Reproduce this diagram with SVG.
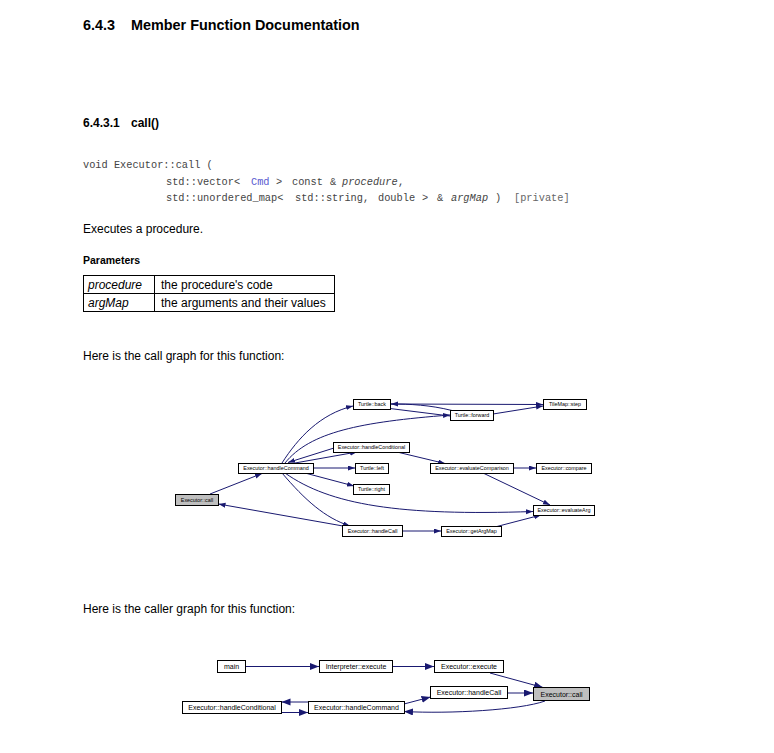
<svg xmlns="http://www.w3.org/2000/svg" width="774" height="753" viewBox="0 0 774 753">
<style>
.t{font-family:"Liberation Sans",Arial,sans-serif;fill:#000}
.h1{font-size:14.4px;font-weight:bold}
.h2{font-size:12px;font-weight:bold}
.p{font-size:12px}
.it{font-style:italic}
.c{font-family:"Liberation Mono","Courier New",monospace;font-size:10.3px;fill:#444}
.ln{fill:none;stroke:#191970;stroke-width:1}
.box{fill:#fff;stroke:#000;stroke-width:1}
.sel{fill:#bfbfbf;stroke:#000;stroke-width:1}
.s{font-family:"Liberation Sans",Arial,sans-serif;font-size:5.4px;fill:#000;text-anchor:middle}
.m{font-family:"Liberation Sans",Arial,sans-serif;font-size:7px;fill:#000;text-anchor:middle}
.e1{marker-end:url(#a1)}
.e2{marker-end:url(#a2)}
</style>
<defs>
<marker id="a1" markerUnits="userSpaceOnUse" markerWidth="8" markerHeight="6" refX="7" refY="2.5" orient="auto"><path d="M0,0 L7,2.5 L0,5 z" fill="#191970"/></marker>
<marker id="a2" markerUnits="userSpaceOnUse" markerWidth="10" markerHeight="8" refX="9" refY="3.5" orient="auto"><path d="M0,0 L9,3.5 L0,7 z" fill="#191970"/></marker>
</defs>
<rect width="774" height="753" fill="#fff"/>
<g id="header">
<text class="t h1" x="83" y="30">6.4.3</text>
<text class="t h1" x="131" y="30">Member Function Documentation</text>
<text class="t h2" x="83" y="127">6.4.3.1</text>
<text class="t h2" x="131" y="127">call()</text>
<text class="c" x="83" y="168">void Executor::call (</text>
<text class="c" x="166" y="185">std::vector&lt;</text>
<text class="c" x="251" y="185" style="fill:#5a5ad0">Cmd</text>
<text class="c" x="276" y="185">&gt;</text>
<text class="c" x="292" y="185">const</text>
<text class="c" x="330" y="185">&amp;</text>
<text class="c it" x="342" y="185">procedure</text>
<text class="c" x="398" y="185">,</text>
<text class="c" x="166" y="201">std::unordered_map&lt;</text>
<text class="c" x="295" y="201">std::string,</text>
<text class="c" x="378" y="201">double</text>
<text class="c" x="422" y="201">&gt;</text>
<text class="c" x="437" y="201">&amp;</text>
<text class="c it" x="451" y="201">argMap</text>
<text class="c" x="495" y="201">)</text>
<text class="c" x="514" y="201" style="fill:#666">[private]</text>
<text class="t p" x="83" y="233">Executes a procedure.</text>
<text class="t" x="83" y="264" style="font-size:10.5px;font-weight:bold">Parameters</text>
<g id="params">
<rect x="83.5" y="275.5" width="251" height="36" fill="none" stroke="#000" stroke-width="1"/>
<line x1="83.5" y1="293.5" x2="334.5" y2="293.5" stroke="#000" stroke-width="1"/>
<line x1="154.5" y1="275.5" x2="154.5" y2="311.5" stroke="#000" stroke-width="1"/>
<text class="t p it" x="88" y="289">procedure</text>
<text class="t p" x="161" y="289">the procedure's code</text>
<text class="t p it" x="88" y="307">argMap</text>
<text class="t p" x="161" y="307">the arguments and their values</text>
</g>
<text class="t p" x="83" y="360">Here is the call graph for this function:</text>
<text class="t p" x="83" y="613">Here is the caller graph for this function:</text>
</g>
<g id="callgraph-edges">
<path class="ln e1" d="M210,494 L262,473.5"/>
<path class="ln e1" d="M343,526 L218.5,504"/>
<path class="ln e1" d="M282,463 C298,438 320,414 353,406"/>
<path class="ln e1" d="M285,463 C310,432 360,422 450,415"/>
<path class="ln e1" d="M334,448 L288,462.5"/>
<path class="ln e1" d="M295,463 L357,452"/>
<path class="ln e1" d="M313,468 L355,468"/>
<path class="ln e1" d="M305,473 L354,486"/>
<path class="ln e1" d="M285,473 C330,505 400,516 533,511.5"/>
<path class="ln e1" d="M282,473 C305,500 325,518 350,526"/>
<path class="ln e1" d="M397,452 L445,463.5"/>
<path class="ln e1" d="M513,468 L536,468"/>
<path class="ln e1" d="M483,473 L550,505"/>
<path class="ln e1" d="M402,531 L441,531"/>
<path class="ln e1" d="M495,527 L541,515"/>
<path class="ln e1" d="M390,404 L543,404.5"/>
<path class="ln e1" d="M493,414 L543,406"/>
<path class="ln e1" d="M452,410.5 C430,405 410,404 391,404"/>
<path class="ln" d="M390,408.5 L450,416"/>
</g>
<g id="n-call"><rect class="sel" x="175.5" y="494.5" width="43" height="11"/><text class="s" x="197" y="501.8">Executor::call</text></g>
<g id="n-handleCommand"><rect class="box" x="238.5" y="463.5" width="75" height="10"/><text class="s" x="276" y="470.4">Executor::handleCommand</text></g>
<g id="n-back"><rect class="box" x="353.5" y="399.5" width="37" height="10"/><text class="s" x="372" y="406.4">Turtle::back</text></g>
<g id="n-forward"><rect class="box" x="450.5" y="410.5" width="43" height="10"/><text class="s" x="472" y="417.4">Turtle::forward</text></g>
<g id="n-step"><rect class="box" x="543.5" y="399.5" width="43" height="10"/><text class="s" x="565" y="406.4">TileMap::step</text></g>
<g id="n-handleConditional"><rect class="box" x="333.5" y="442.5" width="76" height="10"/><text class="s" x="371.5" y="449.4">Executor::handleConditional</text></g>
<g id="n-left"><rect class="box" x="355.5" y="463.5" width="33" height="10"/><text class="s" x="372" y="470.4">Turtle::left</text></g>
<g id="n-right"><rect class="box" x="353.5" y="484.5" width="36" height="10"/><text class="s" x="371.5" y="491.4">Turtle::right</text></g>
<g id="n-evaluateComparison"><rect class="box" x="430.5" y="463.5" width="83" height="10"/><text class="s" x="472" y="470.4">Executor::evaluateComparison</text></g>
<g id="n-compare"><rect class="box" x="536.5" y="463.5" width="55" height="10"/><text class="s" x="564" y="470.4">Executor::compare</text></g>
<g id="n-evaluateArg"><rect class="box" x="533.5" y="505.5" width="61" height="10"/><text class="s" x="564" y="512.4">Executor::evaluateArg</text></g>
<g id="n-handleCall"><rect class="box" x="342.5" y="525.5" width="60" height="11"/><text class="s" x="372.5" y="532.9">Executor::handleCall</text></g>
<g id="n-getArgMap"><rect class="box" x="441.5" y="526.5" width="60" height="10"/><text class="s" x="471.5" y="533.4">Executor::getArgMap</text></g>
<g id="callergraph-edges">
<path class="ln e2" d="M246,666.5 L319,666.5"/>
<path class="ln e2" d="M392,666.5 L434,666.5"/>
<path class="ln e2" d="M490,673 L543,687.5"/>
<path class="ln e2" d="M508,693 L533,693"/>
<path class="ln e2" d="M404,704 L430.5,697"/>
<path class="ln e2" d="M545,701 C520,710 450,714 404,711.5"/>
<path class="ln e2" d="M308,702 L281.5,702"/>
<path class="ln e2" d="M281,712.5 L308,712.5"/>
</g>
<g id="c-main"><rect class="box" x="217.5" y="660.5" width="28" height="12"/><text class="m" x="231.5" y="669">main</text></g>
<g id="c-interp"><rect class="box" x="319.5" y="660.5" width="73" height="12"/><text class="m" x="356" y="669">Interpreter::execute</text></g>
<g id="c-execute"><rect class="box" x="434.5" y="660.5" width="69" height="12"/><text class="m" x="469" y="669">Executor::execute</text></g>
<g id="c-handleCall"><rect class="box" x="430.5" y="686.5" width="77" height="12"/><text class="m" x="469" y="695">Executor::handleCall</text></g>
<g id="c-call"><rect class="sel" x="533.5" y="687.5" width="56" height="13"/><text class="m" x="561.5" y="696.5">Executor::call</text></g>
<g id="c-handleConditional"><rect class="box" x="182.5" y="701.5" width="99" height="12"/><text class="m" x="232" y="710">Executor::handleConditional</text></g>
<g id="c-handleCommand"><rect class="box" x="308.5" y="701.5" width="96" height="12"/><text class="m" x="356.5" y="710">Executor::handleCommand</text></g>
</svg>
